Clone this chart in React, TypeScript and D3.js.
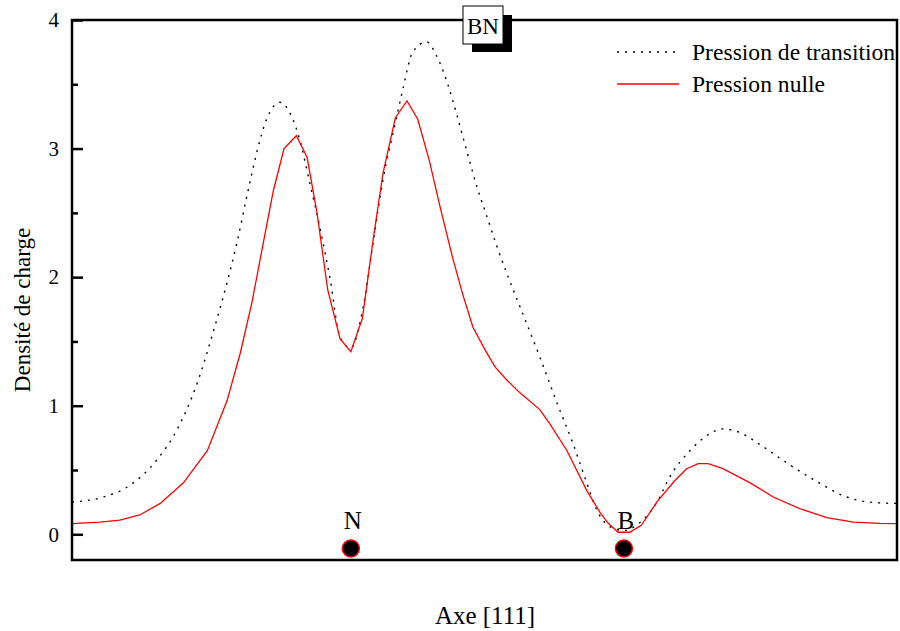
import { useEffect, useRef } from 'react';
import * as d3 from 'd3';

// position along [111] (fraction of the cell shown) and charge density
const nulleX = [0, 0.034, 0.058, 0.082, 0.107, 0.135, 0.164, 0.188, 0.204, 0.218, 0.232, 0.244, 0.257, 0.272, 0.285, 0.297, 0.31, 0.325, 0.338, 0.352, 0.365, 0.377, 0.392, 0.406, 0.419, 0.433, 0.446, 0.461, 0.473, 0.486, 0.501, 0.513, 0.527, 0.543, 0.567, 0.579, 0.6, 0.624, 0.64, 0.65, 0.662, 0.676, 0.69, 0.71, 0.731, 0.745, 0.759, 0.771, 0.789, 0.822, 0.85, 0.882, 0.915, 0.947, 0.979, 1];
const nulleY = [0.083, 0.095, 0.11, 0.15, 0.24, 0.4, 0.65, 1.04, 1.41, 1.8, 2.27, 2.67, 3.0, 3.1, 2.93, 2.5, 1.9, 1.52, 1.42, 1.68, 2.29, 2.81, 3.24, 3.37, 3.23, 2.91, 2.55, 2.16, 1.88, 1.61, 1.43, 1.3, 1.2, 1.1, 0.97, 0.86, 0.65, 0.34, 0.17, 0.085, 0.016, 0.016, 0.07, 0.26, 0.42, 0.51, 0.55, 0.55, 0.51, 0.4, 0.29, 0.2, 0.13, 0.094, 0.085, 0.083];

const transX = [0, 0.038, 0.07, 0.103, 0.127, 0.152, 0.171, 0.188, 0.2, 0.212, 0.224, 0.236, 0.252, 0.264, 0.276, 0.288, 0.301, 0.313, 0.325, 0.338, 0.353, 0.365, 0.377, 0.392, 0.401, 0.413, 0.43, 0.442, 0.455, 0.467, 0.479, 0.491, 0.503, 0.515, 0.527, 0.543, 0.567, 0.588, 0.607, 0.624, 0.636, 0.652, 0.669, 0.688, 0.71, 0.724, 0.749, 0.77, 0.789, 0.81, 0.838, 0.87, 0.903, 0.935, 0.967, 1];
const transY = [0.25, 0.29, 0.38, 0.58, 0.81, 1.18, 1.57, 1.96, 2.27, 2.63, 2.97, 3.23, 3.36, 3.28, 3.07, 2.74, 2.37, 1.98, 1.53, 1.45, 1.77, 2.27, 2.76, 3.2, 3.46, 3.75, 3.83, 3.72, 3.51, 3.25, 2.97, 2.7, 2.47, 2.24, 2.03, 1.77, 1.38, 1.02, 0.71, 0.4, 0.19, 0.06, 0.03, 0.09, 0.26, 0.44, 0.65, 0.77, 0.82, 0.79, 0.68, 0.54, 0.41, 0.3, 0.25, 0.24];

const atomNames = ['N', 'B'];
const atomX = [0.338, 0.669];
const atomY = -0.11;

const yMajor = [0, 1, 2, 3, 4];
const yMinor = [0.5, 1.5, 2.5, 3.5];

const seriesNames = ['Pression de transition', 'Pression nulle'];

const FONT = '"Liberation Serif", "Times New Roman", serif';

export default function App() {
  const svgRef = useRef<SVGSVGElement>(null);

  useEffect(() => {
    if (!svgRef.current) return;
    const width = 900;
    const height = 631;
    const margin = { top: 20, right: 3, bottom: 71, left: 72 };
    const innerWidth = width - margin.left - margin.right;
    const innerHeight = height - margin.top - margin.bottom;

    const svg = d3.select(svgRef.current);
    svg.selectAll('*').remove();
    svg.attr('width', width).attr('height', height);

    const g = svg.append('g').attr('transform', `translate(${margin.left},${margin.top})`);

    const xScale = d3.scaleLinear().domain([0, 1]).range([0, innerWidth]);
    const yScale = d3.scaleLinear().domain([-0.2, 4]).range([innerHeight, 0]);

    const trans = transX.map((x, i) => ({ x, y: transY[i] }));
    const nulle = nulleX.map((x, i) => ({ x, y: nulleY[i] }));

    const line = d3
      .line<{ x: number; y: number }>()
      .x((d) => xScale(d.x))
      .y((d) => yScale(d.y));

    g.append('path')
      .datum(trans)
      .attr('fill', 'none')
      .attr('stroke', '#000')
      .attr('stroke-width', 1.4)
      .attr('stroke-dasharray', '2,6')
      .attr('d', line.curve(d3.curveMonotoneX));

    g.append('path')
      .datum(nulle)
      .attr('fill', 'none')
      .attr('stroke', '#ff0000')
      .attr('stroke-width', 1.3)
      .attr('d', line.curve(d3.curveLinear));

    // atoms on the axis
    atomNames.forEach((name, i) => {
      g.append('circle')
        .attr('cx', xScale(atomX[i]))
        .attr('cy', yScale(atomY))
        .attr('r', 8.5)
        .attr('fill', '#000')
        .attr('stroke', '#ff0000')
        .attr('stroke-width', 1.5);
      g.append('text')
        .attr('x', xScale(atomX[i]) + 2)
        .attr('y', yScale(atomY) - 19)
        .attr('text-anchor', 'middle')
        .attr('font-family', FONT)
        .attr('font-size', 25)
        .attr('fill', '#000')
        .text(name);
    });

    // y axis ticks pointing inward
    const yAxis = g
      .append('g')
      .call(d3.axisLeft(yScale).tickValues(yMajor).tickSize(-11).tickPadding(13).tickFormat(d3.format('d')));
    yAxis.select('.domain').remove();
    yAxis.selectAll('line').attr('stroke', '#000').attr('stroke-width', 2.5);
    yAxis.selectAll('text').attr('font-family', FONT).attr('font-size', 21).attr('fill', '#000');

    const yMinorAxis = g
      .append('g')
      .call(d3.axisLeft(yScale).tickValues(yMinor).tickSize(-6).tickFormat(() => ''));
    yMinorAxis.select('.domain').remove();
    yMinorAxis.selectAll('line').attr('stroke', '#000').attr('stroke-width', 2.5);

    // legend
    const legend = svg.append('g').attr('transform', `translate(617, 52)`);
    seriesNames.forEach((name, i) => {
      const item = legend.append('g').attr('transform', `translate(0, ${i * 32})`);
      item
        .append('line')
        .attr('x1', 0)
        .attr('x2', 62)
        .attr('stroke', i === 0 ? '#000' : '#ff0000')
        .attr('stroke-width', i === 0 ? 1.4 : 1.3)
        .attr('stroke-dasharray', i === 0 ? '2,6' : null);
      item
        .append('text')
        .attr('x', 75)
        .attr('y', 8)
        .attr('font-family', FONT)
        .attr('font-size', 23.6)
        .attr('fill', '#000')
        .text(name);
    });

    // frame
    g.append('rect')
      .attr('width', innerWidth)
      .attr('height', innerHeight)
      .attr('fill', 'none')
      .attr('stroke', '#000')
      .attr('stroke-width', 2.5);

    // BN tag with shadow
    const tag = svg.append('g').attr('transform', 'translate(463, 6)');
    tag.append('rect').attr('x', 9).attr('y', 9).attr('width', 40).attr('height', 37).attr('fill', '#000');
    tag
      .append('rect')
      .attr('width', 40)
      .attr('height', 38)
      .attr('fill', '#fff')
      .attr('stroke', '#000')
      .attr('stroke-width', 1);
    tag
      .append('text')
      .attr('x', 20)
      .attr('y', 28)
      .attr('text-anchor', 'middle')
      .attr('font-family', FONT)
      .attr('font-size', 23)
      .attr('fill', '#000')
      .text('BN');

    // axis titles
    svg
      .append('text')
      .attr('x', 485)
      .attr('y', 624)
      .attr('text-anchor', 'middle')
      .attr('font-family', FONT)
      .attr('font-size', 25)
      .attr('fill', '#000')
      .text('Axe [111]');

    svg
      .append('text')
      .attr('transform', 'translate(30, 310) rotate(-90)')
      .attr('text-anchor', 'middle')
      .attr('font-family', FONT)
      .attr('font-size', 23)
      .attr('fill', '#000')
      .text('Densité de charge');
  }, []);

  return (
    <div style={{ position: 'fixed', left: 0, top: 0, background: '#fff' }}>
      <svg ref={svgRef} style={{ display: 'block' }} />
    </div>
  );
}
